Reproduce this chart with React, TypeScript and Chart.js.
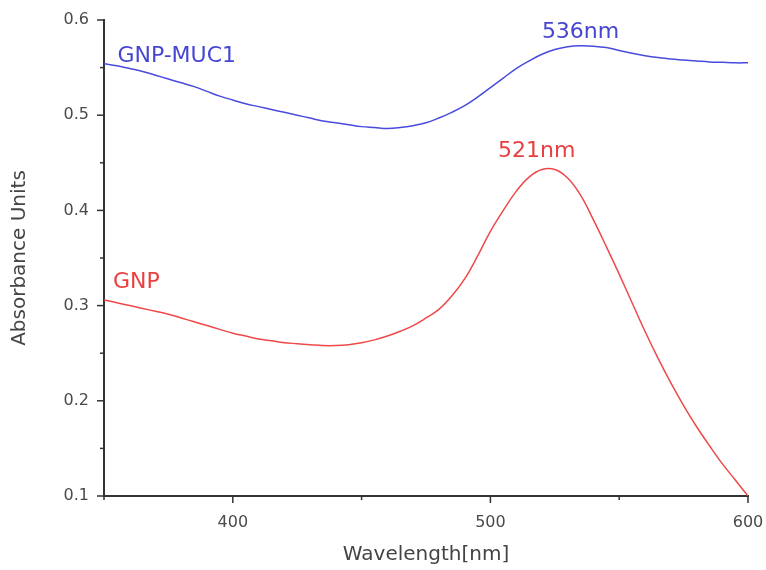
import React, { useEffect, useRef } from "react";
import { Chart, registerables } from "chart.js";

Chart.register(...registerables);

const wavelengths = [350, 355, 360, 365, 370, 375, 380, 385, 390, 395, 400, 405, 410, 415, 420, 425, 430, 435, 440, 445, 450, 455, 460, 465, 470, 475, 480, 485, 490, 495, 500, 505, 510, 515, 520, 525, 530, 535, 540, 545, 550, 555, 560, 565, 570, 575, 580, 585, 590, 595, 600];

const gnpMuc1 = [0.554, 0.552, 0.549, 0.546, 0.542, 0.538, 0.534, 0.530, 0.525, 0.520, 0.516, 0.512, 0.509, 0.506, 0.503, 0.500, 0.497, 0.494, 0.492, 0.490, 0.488, 0.487, 0.486, 0.487, 0.489, 0.492, 0.497, 0.503, 0.510, 0.519, 0.529, 0.539, 0.549, 0.557, 0.564, 0.569, 0.572, 0.573, 0.5725, 0.571, 0.568, 0.565, 0.5625, 0.5605, 0.559, 0.558, 0.557, 0.556, 0.5555, 0.555, 0.555];

const gnp = [0.306, 0.303, 0.300, 0.297, 0.294, 0.291, 0.287, 0.283, 0.279, 0.275, 0.271, 0.268, 0.265, 0.263, 0.261, 0.260, 0.259, 0.258, 0.258, 0.259, 0.261, 0.264, 0.268, 0.273, 0.279, 0.287, 0.296, 0.310, 0.328, 0.352, 0.378, 0.400, 0.420, 0.435, 0.443, 0.443, 0.434, 0.416, 0.390, 0.362, 0.333, 0.303, 0.273, 0.245, 0.219, 0.195, 0.173, 0.153, 0.134, 0.117, 0.100];

const xMajorTicks = [400, 500, 600];
const xMinorTicks = [350, 450, 550];
const yMajorTicks = [0.1, 0.2, 0.3, 0.4, 0.5, 0.6];
const yMinorTicks = [0.15, 0.25, 0.35, 0.45, 0.55];

const noteTexts = ["GNP-MUC1", "536nm", "521nm", "GNP"];
const noteX = [355.2, 535, 518, 353.5];
const noteY = [0.562, 0.587, 0.462, 0.324];
const noteAlign = ["left", "center", "center", "left"];
const noteColors = ["#4646d2", "#4646d2", "#e84040", "#e84040"];

const BLUE = "#4a4ade";
const RED = "#f04848";
const FONT = "'DejaVu Sans', Arial, sans-serif";

export default function App() {
  const canvasRef = useRef<HTMLCanvasElement | null>(null);

  useEffect(() => {
    const canvas = canvasRef.current;
    if (!canvas) return;

    const decorPlugin = {
      id: "decor",
      afterDraw(chart: any) {
        const ctx = chart.ctx;
        const xs = chart.scales.x;
        const ys = chart.scales.y;
        const area = chart.chartArea;
        ctx.save();
        ctx.strokeStyle = "#333";
        ctx.lineWidth = 1.5;
        const drawY = (vals: number[], len: number) => {
          vals.forEach((v) => {
            const py = ys.getPixelForValue(v);
            ctx.beginPath();
            ctx.moveTo(area.left - len, py);
            ctx.lineTo(area.left, py);
            ctx.stroke();
          });
        };
        const drawX = (vals: number[], len: number) => {
          vals.forEach((v) => {
            const px = xs.getPixelForValue(v);
            ctx.beginPath();
            ctx.moveTo(px, area.bottom);
            ctx.lineTo(px, area.bottom + len);
            ctx.stroke();
          });
        };
        drawY(yMajorTicks, 7);
        drawY(yMinorTicks, 4);
        drawX(xMajorTicks, 7);
        drawX(xMinorTicks, 4);

        ctx.font = `22px ${FONT}`;
        ctx.textBaseline = "middle";
        noteTexts.forEach((t, i) => {
          ctx.fillStyle = noteColors[i];
          ctx.textAlign = noteAlign[i] as CanvasTextAlign;
          ctx.fillText(t, xs.getPixelForValue(noteX[i]), ys.getPixelForValue(noteY[i]));
        });
        ctx.restore();
      },
    };

    const chart = new Chart(canvas, {
      type: "line",
      data: {
        datasets: [
          {
            label: "GNP-MUC1",
            data: wavelengths.map((w, i) => ({ x: w, y: gnpMuc1[i] })),
            borderColor: BLUE,
            borderWidth: 1.5,
            pointRadius: 0,
            tension: 0.4,
            fill: false,
          },
          {
            label: "GNP",
            data: wavelengths.map((w, i) => ({ x: w, y: gnp[i] })),
            borderColor: RED,
            borderWidth: 1.5,
            pointRadius: 0,
            tension: 0.4,
            fill: false,
          },
        ],
      },
      options: {
        responsive: false,
        animation: false,
        events: [],
        layout: { padding: { left: 0, right: 18, top: 20, bottom: 0 } },
        plugins: {
          legend: { display: false },
          tooltip: { enabled: false },
        },
        scales: {
          x: {
            type: "linear",
            min: 350,
            max: 600,
            afterFit: (s: any) => {
              s.height = 74;
              s.paddingLeft = 0;
              s.paddingRight = 0;
            },
            afterBuildTicks: (s: any) => {
              s.ticks = xMajorTicks.map((v) => ({ value: v }));
            },
            grid: { display: false, drawTicks: false },
            border: { display: true, color: "#333", width: 2 },
            ticks: {
              color: "#4a4a4a",
              font: { family: FONT, size: 16 },
              padding: 17,
              maxRotation: 0,
              autoSkip: false,
            },
            title: {
              display: true,
              text: "Wavelength[nm]",
              color: "#444",
              font: { family: FONT, size: 20 },
              padding: { top: 0, bottom: 3 },
            },
          },
          y: {
            type: "linear",
            min: 0.1,
            max: 0.6,
            afterFit: (s: any) => {
              s.width = 104;
              s.paddingTop = 0;
              s.paddingBottom = 0;
            },
            afterBuildTicks: (s: any) => {
              s.ticks = yMajorTicks.map((v) => ({ value: v }));
            },
            grid: { display: false, drawTicks: false },
            border: { display: true, color: "#333", width: 2 },
            ticks: {
              color: "#4a4a4a",
              font: { family: FONT, size: 16 },
              padding: 15,
              callback: (v: any) => Number(v).toFixed(1),
            },
            title: {
              display: true,
              text: "Absorbance Units",
              color: "#444",
              font: { family: FONT, size: 20 },
              padding: { top: 8, bottom: 0 },
            },
          },
        },
      },
      plugins: [decorPlugin],
    });

    return () => chart.destroy();
  }, []);

  return (
    <div style={{ position: "absolute", left: 0, top: 0, width: 766, height: 570, background: "#fff" }}>
      <canvas ref={canvasRef} width={766} height={570} />
    </div>
  );
}
